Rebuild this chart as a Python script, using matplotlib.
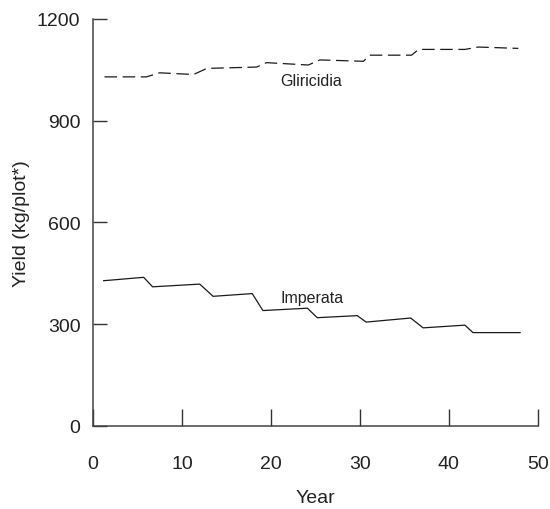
import matplotlib
matplotlib.use('Agg')
from matplotlib import pyplot as plt

plt.rcParams['font.family'] = ['Liberation Sans', 'DejaVu Sans']

gliricidia_years = [1.3, 6.0, 7.5, 11.3, 12.8, 18.4, 19.5, 24.2, 25.5, 30.4, 31.1, 35.8, 36.6, 41.8, 43.3, 47.8]
gliricidia_yield = [1029, 1029, 1041, 1036, 1054, 1058, 1071, 1064, 1079, 1075, 1093, 1093, 1110, 1110, 1117, 1113]

imperata_years = [1.2, 5.7, 6.7, 12.0, 13.5, 17.9, 19.1, 24.1, 25.2, 29.7, 30.7, 35.7, 37.1, 41.8, 42.7, 48.0]
imperata_yield = [428, 438, 410, 418, 382, 390, 340, 347, 319, 325, 306, 318, 289, 297, 275, 275]

x_ticks = [0, 10, 20, 30, 40, 50]
y_ticks = [0, 300, 600, 900, 1200]

fig = plt.figure(figsize=(5.5, 5.1), dpi=100)
ax = fig.add_axes([0.169, 0.163, 0.809, 0.798])

ax.plot(gliricidia_years, gliricidia_yield, color='#1a1a1a', lw=0.9, dashes=(10, 4.5))
ax.plot(imperata_years, imperata_yield, color='#1a1a1a', lw=0.9)

ax.text(24.5, 1018, 'Gliricidia', fontsize=11.5, ha='center', va='center', color='#222222')
ax.text(24.6, 378, 'Imperata', fontsize=11.5, ha='center', va='center', color='#222222')

ax.set_xlim(0, 50)
ax.set_ylim(0, 1200)
ax.set_xticks(x_ticks)
ax.set_yticks(y_ticks)

for side in ['top', 'right']:
    ax.spines[side].set_visible(False)
for side in ['left', 'bottom']:
    ax.spines[side].set_color('#444444')
    ax.spines[side].set_linewidth(1.1)

ax.tick_params(axis='x', direction='in', length=12, width=1.0, color='#333333',
               pad=21, labelsize=14, labelcolor='#222222')
ax.tick_params(axis='y', direction='in', length=10, width=1.0, color='#333333',
               pad=9, labelsize=14, labelcolor='#222222')

ax.set_xlabel('Year', fontsize=14, labelpad=12, color='#222222')
ax.set_ylabel('Yield (kg/plot*)', fontsize=14, labelpad=5, color='#222222')

fig.savefig('out.png', dpi=100)
